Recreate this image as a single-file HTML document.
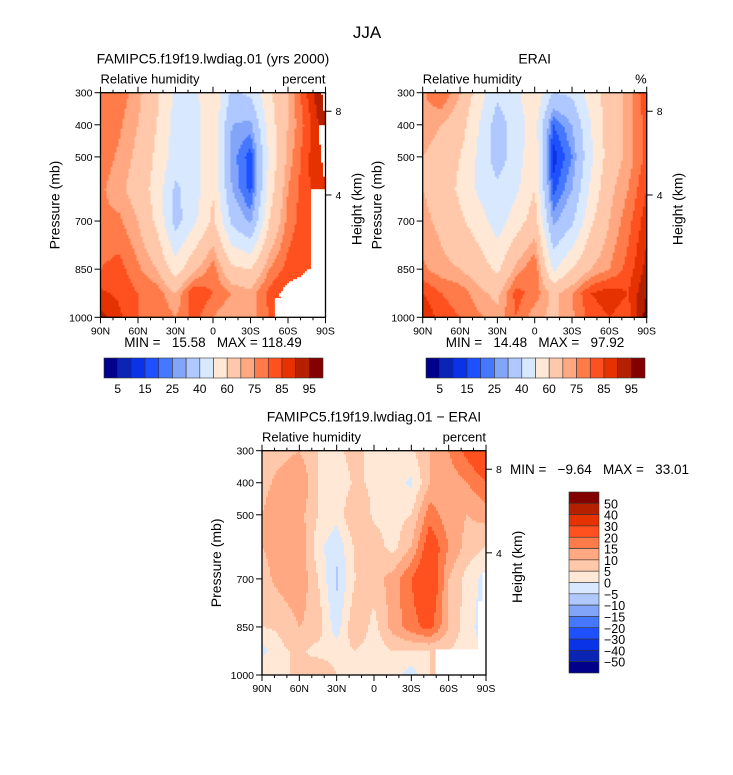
<!DOCTYPE html>
<html><head><meta charset="utf-8"><style>
body{margin:0;background:#fff;}
svg text{font-family:"Liberation Sans",sans-serif;fill:#000;white-space:pre;}
</style></head><body>
<svg id="fig" width="733" height="770" viewBox="0 0 733 770" xmlns="http://www.w3.org/2000/svg">
<text x="367" y="38" font-size="17" text-anchor="middle">JJA</text>
</svg>
<script>
// ---- data ----
const lats = ["90N","75N","60N","45N","30N","15N","0","15S","30S","45S","60S","75S","90S"];
const levels = [300,400,500,600,700,850,925,1000];
const rhLevels = [5,10,15,20,25,30,40,50,60,70,75,80,85,90,95];
const diffLevels = [-50,-40,-30,-20,-15,-10,-5,0,5,10,15,20,30,40,50];
const rhTickLabels = ["5","15","25","40","60","75","85","95"];
const diffTickLabels = ["50","40","30","20","15","10","5","0","\u22125","\u221210","\u221215","\u221220","\u221230","\u221240","\u221250"];
const xTickLabels = ["90N","60N","30N","0","30S","60S","90S"];
const pTickLabels = [300,400,500,700,850,1000];
const modelRH = [
[78,78,72,62,48,47,60,38,42,58,70,85,98],
[78,76,70,60,46,45,58,30,28,55,70,82,95],
[78,74,68,58,45,45,58,28,17,52,72,84,92],
[76,72,66,56,38,45,60,30,18,55,75,84,90],
[76,76,70,58,36,48,62,38,28,60,77,84,88],
[80,82,76,70,55,68,78,62,60,75,82,85,85],
[86,84,80,78,70,85,80,75,72,82,88,88,85],
[92,86,80,80,75,82,75,70,72,80,85,85,85]];
const eraiRH = [
[74,80,70,55,42,48,58,40,42,55,65,72,85],
[74,70,65,50,35,45,55,20,30,50,65,72,82],
[70,66,60,48,35,45,58,12,25,48,65,72,82],
[70,66,58,48,42,48,60,18,30,52,68,75,85],
[72,68,62,55,45,55,65,28,38,58,70,78,88],
[76,72,70,65,58,72,80,48,60,70,75,82,92],
[85,80,78,72,68,82,78,68,75,85,88,85,95],
[90,82,80,76,72,80,72,68,74,82,85,82,98]];
const diffRH = [
[8,8,10,5,3,8,2,2,4,10,15,22,28],
[8,12,15,5,1,6,4,2,-1,10,12,15,20],
[10,14,12,5,2,10,4,3,5,18,12,10,12],
[10,12,14,2,-4,6,8,3,10,25,15,8,5],
[8,12,14,5,-6,5,8,12,20,28,10,3,-2],
[5,6,10,8,-3,10,3,12,18,22,10,2,-3],
[-2,4,6,3,3,5,2,5,5,5,5,2,0],
[5,5,5,10,5,5,3,2,-3,5,5,5,5]];
const palette = ["#00008b","#0a24b4","#0a32e6","#1e50ff","#4678ff","#82a5fa","#afc8ff","#d7e8ff","#ffe8d6","#ffc8aa","#ffa882","#ff7c4a","#ff5020","#e63200","#b42000","#820000"];

// ---- drawing ----
const NS="http://www.w3.org/2000/svg";
const svg=document.getElementById('fig');
function mk(tag,attrs,parent){const e=document.createElementNS(NS,tag);for(const k in attrs)e.setAttribute(k,attrs[k]);(parent||svg).appendChild(e);return e;}
function txt(x,y,s,size,anchor,parent){const t=mk('text',{x:x,y:y,'font-size':size,'text-anchor':anchor||'middle'},parent);t.textContent=s;return t;}
function colorFor(v,lv){let i=0;while(i<lv.length&&v>=lv[i])i++;return palette[i];}
function sample(grid,fx,pr){
  const gx=fx*(lats.length-1);let i=Math.min(Math.floor(gx),lats.length-2);const tx=gx-i;
  let j=0;while(j<levels.length-2&&pr>levels[j+1])j++;
  const ty=Math.max(0,Math.min(1,(pr-levels[j])/(levels[j+1]-levels[j])));
  const a=grid[j][i]*(1-tx)+grid[j][i+1]*tx,b=grid[j+1][i]*(1-tx)+grid[j+1][i+1]*tx;
  return a*(1-ty)+b*ty;
}
function panel(name,x0,y0,w,h,grid,lv,title,units,masks){
  const g=mk('g',{});
  
  
  const xs=f=>x0+f*w, ys=p=>y0+(p-300)/700*h;
  const step=2;
  for(let py=0;py<h;py+=step){
    const pr=300+(py+step/2)/h*700;
    let runStart=0,runCol=null;
    for(let px=0;px<=w;px+=step){
      const c=px<w?colorFor(sample(grid,(px+step/2)/w,pr),lv):null;
      if(c!==runCol){
        if(runCol){const r=mk('rect',{x:x0+runStart,y:y0+py,width:Math.min(px,w)-runStart+0.5,height:Math.min(step,h-py)+0.5,fill:runCol},g);
          
          }
        runStart=px;runCol=c;
      }
    }
  }
  masks.forEach(m=>{const r=mk('rect',{x:xs(m[0]),y:ys(m[1]),width:xs(m[2])-xs(m[0]),height:ys(1000)-ys(m[1]),fill:'#fff'},g);
    
    });
  mk('rect',{x:x0,y:y0,width:w,height:h,fill:'none',stroke:'#000','stroke-width':1.3},g);
  for(let k=0;k<=18;k++){const xx=x0+k/18*w;const L=(k%3==0)?6:3;
    mk('line',{x1:xx,y1:y0+h,x2:xx,y2:y0+h+L,stroke:'#000'},g);
    mk('line',{x1:xx,y1:y0,x2:xx,y2:y0-L,stroke:'#000'},g);}
  xTickLabels.forEach((s,k)=>{const t=txt(x0+k/6*w,y0+h+17,s,10.5,'middle',g);});
  pTickLabels.forEach(p=>{mk('line',{x1:x0,y1:ys(p),x2:x0-6,y2:ys(p),stroke:'#000'},g);
    const t=txt(x0-8,ys(p)+4,String(p),10.5,'end',g);});
  [[8,18.5/224],[4,102/224]].forEach(a=>{const yy=y0+a[1]*h;mk('line',{x1:x0+w,y1:yy,x2:x0+w+6,y2:yy,stroke:'#000'},g);txt(x0+w+10,yy+4,String(a[0]),10.5,'start',g);});
  const yl=txt(0,0,'Pressure (mb)',14,'middle',g);yl.setAttribute('transform',`translate(${x0-41},${y0+h/2}) rotate(-90)`);
  
  const hl=txt(0,0,'Height (km)',14,'middle',g);hl.setAttribute('transform',`translate(${x0+w+36},${y0+h/2+4}) rotate(-90)`);
  
  const tt=txt(x0+w/2,y0-29,title,14,'middle',g);
  txt(x0,y0-9,'Relative humidity',13,'start',g);
  txt(x0+w,y0-9,units,13,'end',g);
  return g;
}
function hbar(name,x0,y0,w,h){
  const g=mk('g',{});
  
  
  const bw=w/palette.length;
  palette.forEach((c,i)=>{const r=mk('rect',{x:x0+i*bw,y:y0,width:bw,height:h,fill:c,stroke:'#333','stroke-width':0.6},g);
    });
  rhTickLabels.forEach((s,k)=>{txt(x0+(2*k+1)*bw,y0+h+15,s,12,'middle',g);});
}
panel('model-panel',100.5,92.7,225,224.6,modelRH,rhLevels,'FAMIPC5.f19f19.lwdiag.01 (yrs 2000)','percent',[[0.775,940,0.97],[0.965,760,1.0],[0.985,620,1.0]]);
panel('erai-panel',422.7,92.7,224,224.6,eraiRH,rhLevels,'ERAI','%',[]);
panel('diff-panel',262,450.7,224,224.3,diffRH,diffLevels,'FAMIPC5.f19f19.lwdiag.01 \u2212 ERAI','percent',[[0.775,920,0.97],[0.965,770,1.0],[0.985,680,1.0]]);
txt(213,347,'MIN =   15.58   MAX = 118.49',13.5,'middle');
txt(535,347,'MIN =   14.48   MAX =   97.92',13.5,'middle');
txt(510,474,'MIN =   \u22129.64   MAX =   33.01',13.5,'start');
hbar('model-colorbar',104,358,219,20);
hbar('erai-colorbar',426,358,219,20);
(function(){const g=mk('g',{});
  
  
  const x0=569,y0=492,w=30,h=181,bh=h/palette.length;
  palette.slice().reverse().forEach((c,i)=>{const r=mk('rect',{x:x0,y:y0+i*bh,width:w,height:bh,fill:c,stroke:'#333','stroke-width':0.6},g);
    });
  diffTickLabels.forEach((s,k)=>txt(604,y0+(k+1)*bh+5,s,12.5,'start',g));
})();
</script>
</body></html>
